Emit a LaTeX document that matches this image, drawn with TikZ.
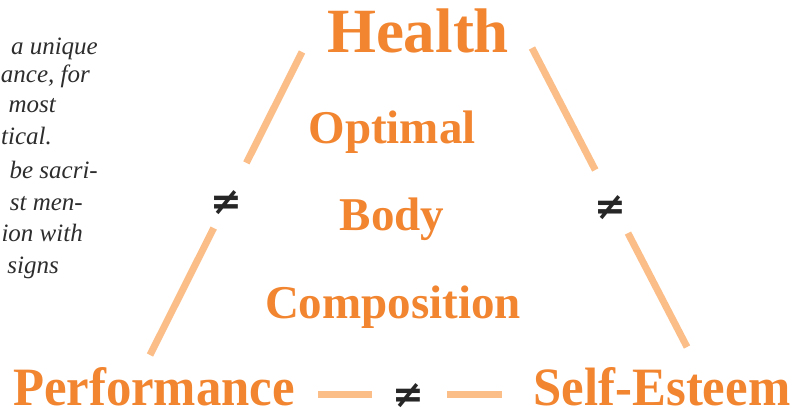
\documentclass[tikz,border=0pt]{standalone}
\usepackage{fontspec}
\setmainfont{Liberation Serif}
\newfontfamily\labelserif{Liberation Serif}
\newfontfamily\condensedserif[FakeStretch=0.94]{Liberation Serif}
\newfontfamily\signfont{DejaVu Sans}
\usetikzlibrary{calc}
\definecolor{labelorange}{RGB}{242,133,48}
\definecolor{edgeorange}{RGB}{251,190,137}
\definecolor{notegray}{RGB}{45,45,45}
\tikzset{
    corner/.style={text=labelorange, font=\fontsize{54}{54}\condensedserif\bfseries, inner sep=0pt, anchor=base},
    middle/.style={text=labelorange, font=\fontsize{47}{47}\labelserif\bfseries, inner sep=0pt, anchor=base},
    neqsign/.style={font=\fontsize{38}{38}\signfont\bfseries, text=black!85, inner sep=0pt},
    side/.style={color=edgeorange, line width=7pt},
    note/.style={text=notegray, font=\fontsize{25}{25}\labelserif\itshape, inner sep=0pt, anchor=base east}
}
\begin{document}
\begin{tikzpicture}[x=1pt, y=-1pt]
        \useasboundingbox (0,0) rectangle (799,414);

        % cut-off note on the left
        \node[note] (n1) at (98,55) {a unique};
        \node[note] (n2) at (90,83) {ance, for};
        \node[note] (n3) at (56,113) {most};
        \node[note] (n4) at (52,145) {tical.};
        \node[note] (n5) at (98,178) {be sacri-};
        \node[note] (n6) at (83,210) {st men-};
        \node[note] (n7) at (83,241) {ion with};
        \node[note] (n8) at (59,273) {signs};

        % corners
        \node[text=labelorange, font=\fontsize{63}{63}\labelserif\bfseries, inner sep=0pt, anchor=base] (health) at (418,53) {Health};
        \node[corner] (perf) at (154,405) {Performance};
        \node[corner] (esteem) at (662,405) {Self-Esteem};

        % centre
        \node[middle] (optimal) at (392,143) {Optimal};
        \node[middle] (body) at (392,230) {Body};
        \node[middle] (comp) at (393,318) {Composition};

        % not-equal signs
        \node[neqsign] (neqleft) at (226,203) {≠};
        \node[neqsign] (neqright) at (610,208) {≠};
        \node[neqsign] (neqbottom) at (408,396) {≠};

        % sides of the triangle
        \coordinate (hl) at (302,52);
        \coordinate (pl) at (150,355);
        \coordinate (hr) at (532,48);
        \coordinate (sr) at (687,347);
        \draw[side] (hl) -- ($(hl)!0.366!(pl)$);
        \draw[side] ($(hl)!0.581!(pl)$) -- (pl);
        \draw[side] (hr) -- ($(hr)!0.408!(sr)$);
        \draw[side] ($(hr)!0.619!(sr)$) -- (sr);

        \coordinate (b1) at (318,394);
        \coordinate (b2) at (372,394);
        \coordinate (b3) at (447,394);
        \coordinate (b4) at (502,394);
        \draw[side] (b1) -- (b2);
        \draw[side] (b3) -- (b4);

    \end{tikzpicture}
\end{document}
